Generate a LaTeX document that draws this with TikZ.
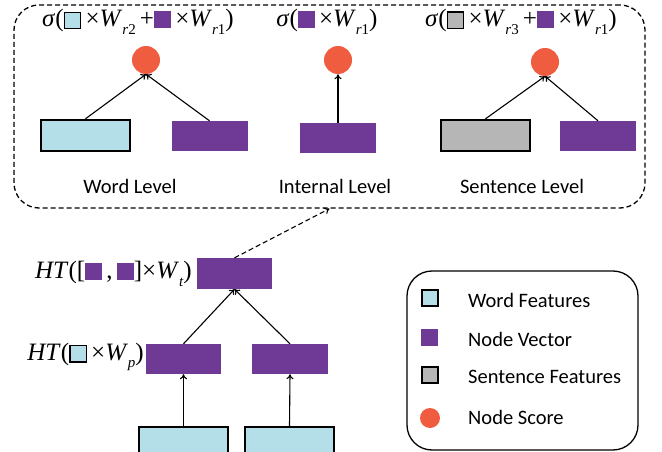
\documentclass[tikz,border=0pt]{standalone}
\usepackage{fontspec}
\setmainfont{Liberation Serif}
\newfontfamily\lab{Carlito}
\usetikzlibrary{arrows.meta}
\definecolor{lb}{RGB}{180,222,232}
\definecolor{pu}{RGB}{111,58,150}
\definecolor{gy}{RGB}{182,182,182}
\definecolor{sc}{RGB}{240,92,64}
\newcommand{\bsq}[1]{\raisebox{-1pt}{\setlength{\fboxsep}{0pt}\setlength{\fboxrule}{1.4pt}\fcolorbox{black}{#1}{\rule{0pt}{15pt}\rule{15pt}{0pt}}}}
\newcommand{\psq}{\raisebox{-1pt}{\textcolor{pu}{\rule{17pt}{17pt}}}}
\newcommand{\sbs}[1]{\raisebox{-0.3em}{\fontsize{15}{15}\selectfont #1}}
\begin{document}
\begin{tikzpicture}[x=1pt,y=-1pt,
  lbbox/.style={draw=black,line width=2.4pt,fill=lb,minimum width=#1,minimum height=31pt,inner sep=0pt},
  gybox/.style={draw=black,line width=2.4pt,fill=gy,minimum width=89pt,minimum height=31pt,inner sep=0pt},
  pubox/.style={fill=pu,minimum width=76pt,minimum height=30pt,inner sep=0pt},
  score/.style={circle,fill=sc,minimum size=28pt,inner sep=0pt},
  arr/.style={line width=1.1pt,-{To[length=5pt,width=7pt]}},
  lvl/.style={font=\lab\fontsize{20.5}{22}\selectfont},
  frm/.style={font=\fontsize{25}{27}\selectfont,inner sep=0pt},
  legt/.style={font=\lab\fontsize{20.5}{22}\selectfont,anchor=west,inner sep=0pt}]
\useasboundingbox (0,0) rectangle (662,452);
% top dashed box
\node[draw,dash pattern=on 5pt off 3pt,line width=1.3pt,rounded corners=25pt,minimum width=631pt,minimum height=203pt] (topbox) at (329.5,106.5) {};
% word level
\node[lbbox=89pt] (wl) at (85.5,135.5) {};
\node[pubox] (wp) at (209.5,136) {};
\node[score] (c1) at (146,60) {};
\draw[arr] (wl.north) -- (c1.south);
\draw[arr] (wp.north) -- (c1.south);
\node[frm] (f1) at (138,22) {\textit{σ}(\bsq{lb}\,×\textit{W}\sbs{\textit{r}2}\,+\psq\,×\textit{W}\sbs{\textit{r}1})};
\node[lvl] (l1) at (130,186) {Word Level};
% internal level
\node[pubox] (ip) at (338,138) {};
\node[score] (c2) at (338,60) {};
\draw[arr] (ip.north) -- (c2.south);
\node[frm] (f2) at (327,22) {\textit{σ}(\psq\,×\textit{W}\sbs{\textit{r}1})};
\node[lvl] (l2) at (335,186) {Internal Level};
% sentence level
\node[gybox] (sg) at (485.5,135.5) {};
\node[pubox] (sp) at (598,136) {};
\node[score] (c3) at (545,62) {};
\draw[arr] (sg.north) -- (c3.south);
\draw[arr] (sp.north) -- (c3.south);
\node[frm] (f3) at (521,22) {\textit{σ}(\bsq{gy}\,×\textit{W}\sbs{\textit{r}3}\,+\psq\,×\textit{W}\sbs{\textit{r}1})};
\node[lvl] (l3) at (522,186) {Sentence Level};
% bottom tree
\node[pubox,minimum width=75pt,minimum height=31pt] (ht) at (234.5,273.5) {};
\node[pubox,minimum width=75pt] (m1) at (183.5,359) {};
\node[pubox] (m2) at (290,359) {};
\node[lbbox=89pt,minimum height=44pt,anchor=north] (b1) at (183.5,426) {};
\node[lbbox=89pt,minimum height=44pt,anchor=north] (b2) at (289.5,426) {};
\draw[arr] (b1.north) -- (m1.south);
\draw[arr] (b2.north) -- (m2.south);
\draw[arr] (m1.north) -- (ht.south);
\draw[arr] (m2.north) -- (ht.south);
\draw[arr,dash pattern=on 5pt off 3pt] (ht.north) -- (topbox.south);
\node[frm,anchor=east] (hl1) at (192,274) {\textit{HT}([\psq\,,\,\psq]×\textit{W}\sbs{\textit{t}})};
\node[frm,anchor=east] (hl2) at (144,357) {\textit{HT}(\bsq{lb}\,×\textit{W}\sbs{\textit{p}})};
% legend
\node[draw,line width=1.3pt,rounded corners=25pt,minimum width=231pt,minimum height=179pt] (leg) at (522.5,360.5) {};
\node[draw,line width=1.3pt,fill=lb,minimum size=16pt,inner sep=0pt] (k1) at (430,298) {};
\node[fill=pu,minimum size=17pt,inner sep=0pt] (k2) at (429.5,337) {};
\node[draw,line width=1.3pt,fill=gy,minimum size=16pt,inner sep=0pt] (k3) at (430,375) {};
\node[circle,fill=sc,minimum size=20pt,inner sep=0pt] (k4) at (430,418) {};
\node[legt] (t1) at (468,300) {Word Features};
\node[legt] (t2) at (468,339) {Node Vector};
\node[legt] (t3) at (468,377) {Sentence Features};
\node[legt] (t4) at (468,417) {Node Score};
\end{tikzpicture}
\end{document}
